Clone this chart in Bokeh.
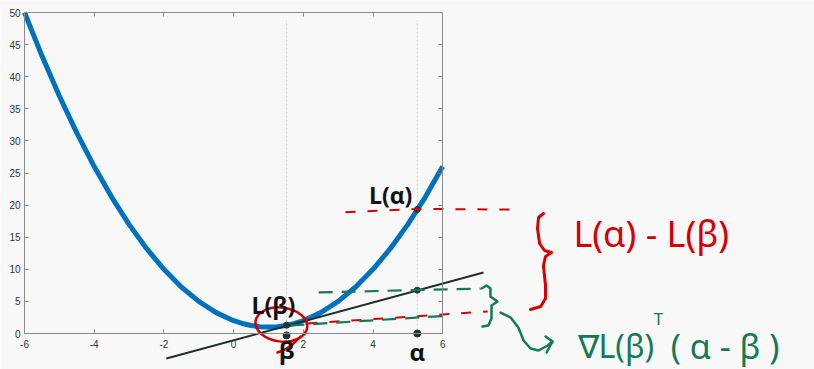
from bokeh.plotting import figure
from bokeh.models import LinearAxis, FixedTicker, Range1d
from bokeh.core.properties import value
from bokeh.embed import file_html
from bokeh.resources import INLINE

# ---- data ----
curve_x = [-6, -5.5, -5, -4.5, -4, -3.5, -3, -2.5, -2, -1.5, -1, -0.5, 0,
           0.25, 0.5, 0.75, 1, 1.25, 1.5, 1.75, 2, 2.5, 3, 3.5, 4, 4.5, 5, 5.5, 6]
curve_y = [50, 43.25, 37, 31.25, 26, 21.25, 17, 13.25, 10, 7.25, 5, 3.25, 2,
           1.56, 1.25, 1.06, 1, 1.06, 1.25, 1.56, 2, 3.25, 5, 7.25, 10, 13.25, 17, 21.25, 26]

beta = 1.52
alpha = 5.27
L_beta = 1.3
L_alpha = 19.3
line_at_alpha = 6.75

line_x = [-1.93, 7.17]
line_y = [-3.89, 9.5]

x_ticks = [-6, -4, -2, 0, 2, 4, 6]
x_tick_labels = ["-6", "-4", "-2", "0", "2", "4", "6"]
y_ticks = [0, 5, 10, 15, 20, 25, 30, 35, 40, 45, 50]
y_tick_labels = ["0", "5", "10", "15", "20", "25", "30", "35", "40", "45", "50"]

# hand-drawn annotation strokes (data coordinates)
red_dash_xs = [[3.21, 5.3, 8.17], [2.12, 7.29]]
red_dash_ys = [[18.9, 19.4, 19.3], [1.56, 3.43]]
green_dash_xs = [[2.44, 7.08], [1.63, 6.22]]
green_dash_ys = [[6.4, 7.0], [1.25, 2.8]]
red_brace_x = [8.89, 8.75, 8.72, 8.78, 8.92, 9.12, 8.95, 8.89, 8.95, 8.95, 8.81, 8.52]
red_brace_y = [18.69, 18.07, 16.36, 14.02, 12.93, 12.62, 11.99, 10.59, 7.48, 5.45, 4.21, 3.74]
green_brace_x = [7.11, 7.26, 7.37, 7.37, 7.57, 7.40, 7.40, 7.31, 7.14]
green_brace_y = [7.01, 7.48, 7.01, 5.76, 4.98, 4.36, 2.34, 1.25, 1.09]
arrow_x = [7.66, 7.95, 8.17, 8.32, 8.52, 8.75, 9.01, 9.15]
arrow_y = [3.27, 2.49, 0.93, -1.09, -2.34, -2.65, -1.87, -1.25]
arrow_head_x = [8.95, 9.15, 8.98]
arrow_head_y = [-0.47, -1.25, -2.96]
tail_x = [1.92, 1.69, 1.43, 1.26]
tail_y = [-0.47, -1.71, -2.65, -2.96]

BG = "#f8f8f8"
AX = "#8c8c8c"
RED = "#d50000"
GREEN = "#137a55"

p = figure(width=814, height=369,
           x_range=Range1d(-6.689, 16.668), y_range=Range1d(-5.607, 51.87),
           output_backend="svg", toolbar_location=None,
           x_axis_type=None, y_axis_type=None, min_border=0,
           background_fill_color=BG, border_fill_color=BG,
           outline_line_color=None)


def make_axis(loc, bounds, ticks, labels, show_labels, standoff):
    ax = LinearAxis(fixed_location=loc, bounds=bounds,
                    ticker=FixedTicker(ticks=ticks),
                    major_tick_in=4, major_tick_out=0,
                    minor_tick_line_color=None,
                    axis_line_color=AX, major_tick_line_color=AX,
                    major_label_text_font_size="10px",
                    major_label_text_font="Liberation Sans",
                    major_label_text_color="#333333" if show_labels else None,
                    major_label_standoff=standoff,
                    major_label_overrides={t: l for t, l in zip(ticks, labels)})
    return ax


p.add_layout(make_axis(0, (-6, 6), x_ticks, x_tick_labels, True, 6), "below")
p.add_layout(make_axis(-6, (0, 50), y_ticks, y_tick_labels, True, 4), "left")
p.add_layout(make_axis(50, (-6, 6), x_ticks, x_tick_labels, False, 3), "above")
p.add_layout(make_axis(6, (0, 50), y_ticks, y_tick_labels, False, 3), "right")

# vertical dotted guides
p.segment(x0=[beta, alpha], y0=[0, 0], x1=[beta, alpha], y1=[48.75, 48.75],
          line_color="#cfd4b8", line_dash="2 2", line_width=1)

# curve
p.line(curve_x, curve_y, line_color="#0072BD", line_width=5, line_join="round")

# tangent line
p.line(line_x, line_y, line_color="#1f2d2d", line_width=2)

# dots
p.scatter(x=[beta, beta, alpha, alpha, alpha],
          y=[L_beta, -0.3, 0, L_alpha, line_at_alpha],
          size=[6, 7, 7, 6, 6], color="#263238")

# hand-drawn dashes
p.multi_line(xs=red_dash_xs, ys=red_dash_ys, line_color=RED, line_width=2,
             line_dash="10 12")
p.multi_line(xs=green_dash_xs, ys=green_dash_ys, line_color=GREEN, line_width=2.2,
             line_dash="14 9")

# braces & arrow
p.line(red_brace_x, red_brace_y, line_color=RED, line_width=3, line_join="round", line_cap="round")
p.line(green_brace_x, green_brace_y, line_color=GREEN, line_width=2.5, line_join="round", line_cap="round")
p.line(arrow_x, arrow_y, line_color=GREEN, line_width=2.5, line_join="round", line_cap="round")
p.line(arrow_head_x, arrow_head_y, line_color=GREEN, line_width=2.5, line_join="round", line_cap="round")

# red circle around L(beta)
p.ellipse(x=[1.37], y=[1.40], width=[52], height=[34], width_units="screen",
          height_units="screen", angle=-0.12, fill_color=None,
          line_color=RED, line_width=2.5)
p.line(tail_x, tail_y, line_color=RED, line_width=2.5, line_cap="round")

# point labels
p.text(x=[5.13], y=[21.5], text=["L(α)"], text_font=value("Open Sans"),
       text_font_style="bold", text_font_size="23px", text_align="right",
       text_baseline="middle", text_color="#111111")
p.text(x=[1.14], y=[4.4], text=["L(β)"], text_font=value("Open Sans"),
       text_font_style="bold", text_font_size="23px", text_align="center",
       text_baseline="middle", text_color="#111111")
p.text(x=[beta, alpha], y=[-2.5, -2.8], text=["β", "α"], text_font=value("Open Sans"),
       text_font_style="bold", text_font_size="24px", text_align="center",
       text_baseline="middle", text_color="#111111")

# hand-written formulas
p.text(x=[9.75], y=[15.58], text=["L(α) - L(β)"], text_font=value("Noto Sans"),
       text_font_size="36px", text_align="left",
       text_baseline="middle", text_color=RED)
p.text(x=[9.87], y=[-1.9], text=["∇L(β)"], text_font=value("Noto Sans"),
       text_font_size="32px", text_align="left",
       text_baseline="middle", text_color=GREEN)
p.text(x=[12.19], y=[2.34], text=["T"], text_font=value("Noto Sans"),
       text_font_size="17px", text_align="center",
       text_baseline="middle", text_color=GREEN)
p.text(x=[12.54], y=[-1.9], text=["( α - β )"], text_font=value("Noto Sans"),
       text_font_size="34px", text_align="left",
       text_baseline="middle", text_color=GREEN)

open("out.html", "w").write(file_html(p, INLINE))
